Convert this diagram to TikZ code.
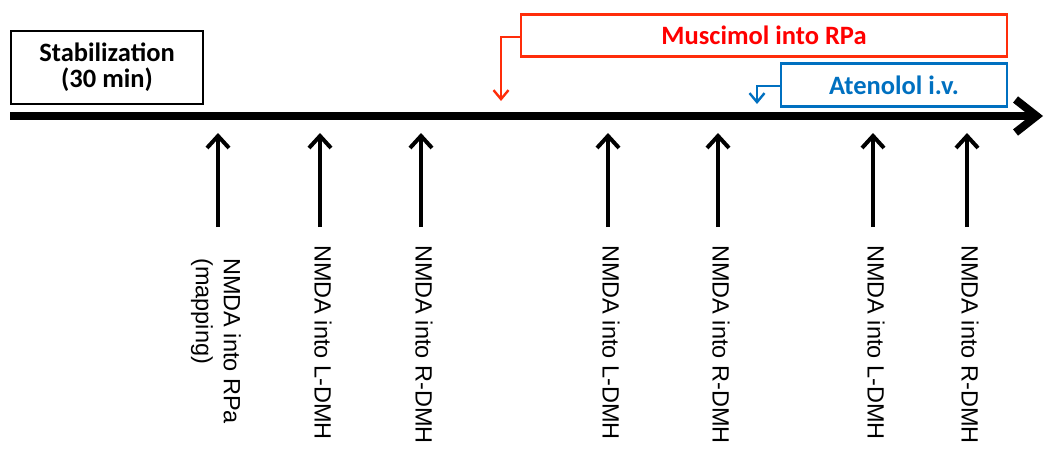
\documentclass[tikz,border=0pt]{standalone}
\usepackage{fontspec}
\setmainfont{Liberation Sans}
\newfontfamily\boldfam{Carlito}
\usetikzlibrary{arrows.meta}
\definecolor{redtxt}{RGB}{255,0,0}
\definecolor{redln}{RGB}{255,45,10}
\definecolor{bluetxt}{RGB}{0,112,192}
\tikzset{
  boxlab/.style={draw, line width=2.4pt, inner sep=0pt, align=center,
    font=\boldfam\bfseries\fontsize{26.5}{26}\selectfont},
  uparrow/.style={line width=4pt, -{Straight Barb[length=12pt,width=22pt]}},
  evlab/.style={rotate=-90, anchor=west, inner sep=0pt, align=left,
    font=\fontsize{23.5}{28}\selectfont},
  elbowarrow/.style={line width=2.4pt, -{Straight Barb[length=9pt,width=15pt]}},
}
\begin{document}
\begin{tikzpicture}[x=1pt,y=-1pt]
\useasboundingbox (0,0) rectangle (1048,448);
% main time axis
\coordinate (axs) at (10,116);
\coordinate (axe) at (1043,116);
\draw[line width=8pt, -{Straight Barb[length=21pt,width=33pt]}] (axs) -- (axe);
% stabilization box
\node[boxlab, minimum width=192pt, minimum height=73pt] (stab) at (107,67.5)
  {Stabilization\\(30 min)};
% muscimol box
\node[boxlab, draw=redln, text=redtxt, minimum width=486pt, minimum height=42pt] (musc) at (764,35.5)
  {Muscimol into RPa};
\coordinate (muscbend) at (501,37);
\coordinate (musctip) at (501,101);
\draw[elbowarrow, redln] (musc.west |- muscbend) -- (muscbend) -- (musctip);
% atenolol box
\node[boxlab, draw=bluetxt, text=bluetxt, minimum width=226pt, minimum height=43pt] (aten) at (894,85)
  {Atenolol i.v.};
\coordinate (atenbend) at (757,86);
\coordinate (atentip) at (757,104);
\draw[elbowarrow, bluetxt] (aten.west |- atenbend) -- (atenbend) -- (atentip);
% event arrows and labels
\foreach \n/\x in {1/218,2/320,3/421,4/608,5/718,6/873,7/967}{
  \coordinate (b\n) at (\x,227);
  \coordinate (t\n) at (\x,133);
  \draw[uparrow] (b\n) -- (t\n);
}
\node[evlab] (l1) at (216,258) {NMDA into RPa\\(mapping)};
\node[evlab] (l2) at (323,245) {NMDA into L-DMH};
\node[evlab] (l3) at (424,245) {NMDA into R-DMH};
\node[evlab] (l4) at (611,245) {NMDA into L-DMH};
\node[evlab] (l5) at (721,245) {NMDA into R-DMH};
\node[evlab] (l6) at (876,245) {NMDA into L-DMH};
\node[evlab] (l7) at (970,245) {NMDA into R-DMH};
\end{tikzpicture}
\end{document}
